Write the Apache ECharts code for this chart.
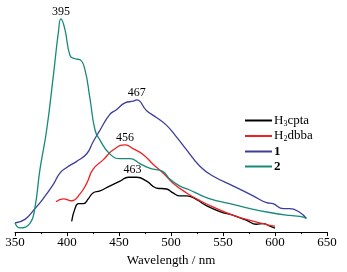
<!DOCTYPE html>
<html>
<head>
<meta charset="utf-8">
<script src="https://cdn.jsdelivr.net/npm/echarts@6/dist/echarts.min.js"></script>
<style>
html,body{margin:0;padding:0;background:#fff;}
#chart{width:347px;height:272px;}
</style>
</head>
<body>
<div id="chart"></div>
<script>
// wavelength (nm), intensity (a.u.)
var cptaData = [[404.5,11],[407.7,24],[411,29],[415.7,29],[420.5,34],[425,40],[431.7,42],[441,47],[451,52],[459,56],[467,56],[476.6,52],[486,45],[495.8,44],[502,40],[508.6,37],[515,37],[524.7,33],[534,27],[547,21],[560,17],[572.8,12],[582,8],[588.7,8.7],[595,6],[600,4]];
var dbbaData = [[389.4,31],[396.5,34],[404.5,32],[412.5,39],[419,50],[425,64],[435,74],[444.5,84],[455.8,89],[463.8,85],[473.4,79],[483,69],[492.6,60],[502,50],[515,40],[528,32],[544,24],[560,17],[576,12],[592,7.7],[600,6]];
var c1Data = [[350,9.3],[359.6,13],[367.6,22],[377,34],[387,49],[393,60],[399.7,66],[409,72],[419,80],[425,92],[431.7,104],[441,120],[447.5,125],[455.8,132],[463.8,133.7],[467,135],[476.6,124],[486,117],[495.8,109],[505.4,97],[515,84],[528,67],[540.7,57],[560,47],[579,37],[592,30],[598,29],[608,24],[614,24],[624,20],[630,14]];
var c2Data = [[350,9.3],[354.8,4.3],[364.4,9],[369,24],[374,64],[380.4,104],[386.9,160],[391.7,204],[394.2,217.7],[398,207],[403,180],[407.7,177],[412.5,176],[417,167],[422,137],[427,104],[431.7,94],[441,80],[451,75],[460.6,75],[470,70],[480,65],[492,62],[499,54],[508.6,47],[518,43],[528,38],[537.5,34],[556.7,29],[576,24],[595,20],[614,17],[624,16],[630.4,14]];
var peakLabels = [
    {name:'395', coord:[394.2,217.7]},
    {name:'467', coord:[467,135]},
    {name:'456', coord:[455.8,89]},
    {name:'463', coord:[463,56]}
];
var seriesNames = ['H3cpta','H2dbba','1','2'];

var myChart = echarts.init(document.getElementById('chart'));

function peak(p){
    return {
        symbol:'circle', symbolSize:0,
        label:{show:true, position:'top', distance:1, formatter:p.name,
            fontFamily:'Liberation Serif', fontSize:12, color:'#000'},
        data:[{coord:p.coord}]
    };
}

function line(name, data, color, mp){
    var s = {
        name: name, type:'line', data:data, smooth:0.5, symbol:'none',
        lineStyle:{width:1.3, color:color}, itemStyle:{color:color},
        animation:false
    };
    if (mp) s.markPoint = peak(mp);
    return s;
}

var option = {
    backgroundColor:'#fff',
    animation:false,
    grid:{left:15, right:20, top:0, bottom:35},
    legend:{
        orient:'vertical', left:240, top:109, itemWidth:27, itemHeight:11, itemGap:2,
        icon:'path://M0,4L27,4L27,6L0,6Z',
        data:seriesNames,
        textStyle:{fontFamily:'Liberation Serif', fontSize:13, color:'#000',
            padding:[0,0,0,-3],
            rich:{
                sub:{fontFamily:'Liberation Serif', fontSize:8, verticalAlign:'bottom', padding:[6,0,0,0]},
                b:{fontFamily:'Liberation Serif', fontSize:13, fontWeight:'bold', lineHeight:11}
            }},
        formatter:function(n){
            if (n === 'H3cpta') return 'H{sub|3}cpta';
            if (n === 'H2dbba') return 'H{sub|2}dbba';
            return '{b|' + n + '}';
        }
    },
    xAxis:{
        type:'value', min:350, max:650, interval:50,
        name:'Wavelength / nm', nameLocation:'middle', nameGap:21,
        nameTextStyle:{fontFamily:'Liberation Serif', fontSize:13, color:'#000'},
        axisLine:{lineStyle:{color:'#000', width:1}},
        axisTick:{inside:false, length:4, lineStyle:{color:'#000'}},
        minorTick:{show:true, splitNumber:2, length:2, lineStyle:{color:'#000'}},
        axisLabel:{fontFamily:'Liberation Serif', fontSize:13, color:'#000', margin:4},
        splitLine:{show:false}
    },
    yAxis:{
        type:'value', min:0, max:237, show:false
    },
    series:[
        line('H3cpta', cptaData, '#000000', peakLabels[3]),
        line('H2dbba', dbbaData, '#f02020', peakLabels[2]),
        line('1', c1Data, '#3c3c9c', peakLabels[1]),
        line('2', c2Data, '#17897a', peakLabels[0])
    ]
};
myChart.setOption(option);
</script>
</body>
</html>
